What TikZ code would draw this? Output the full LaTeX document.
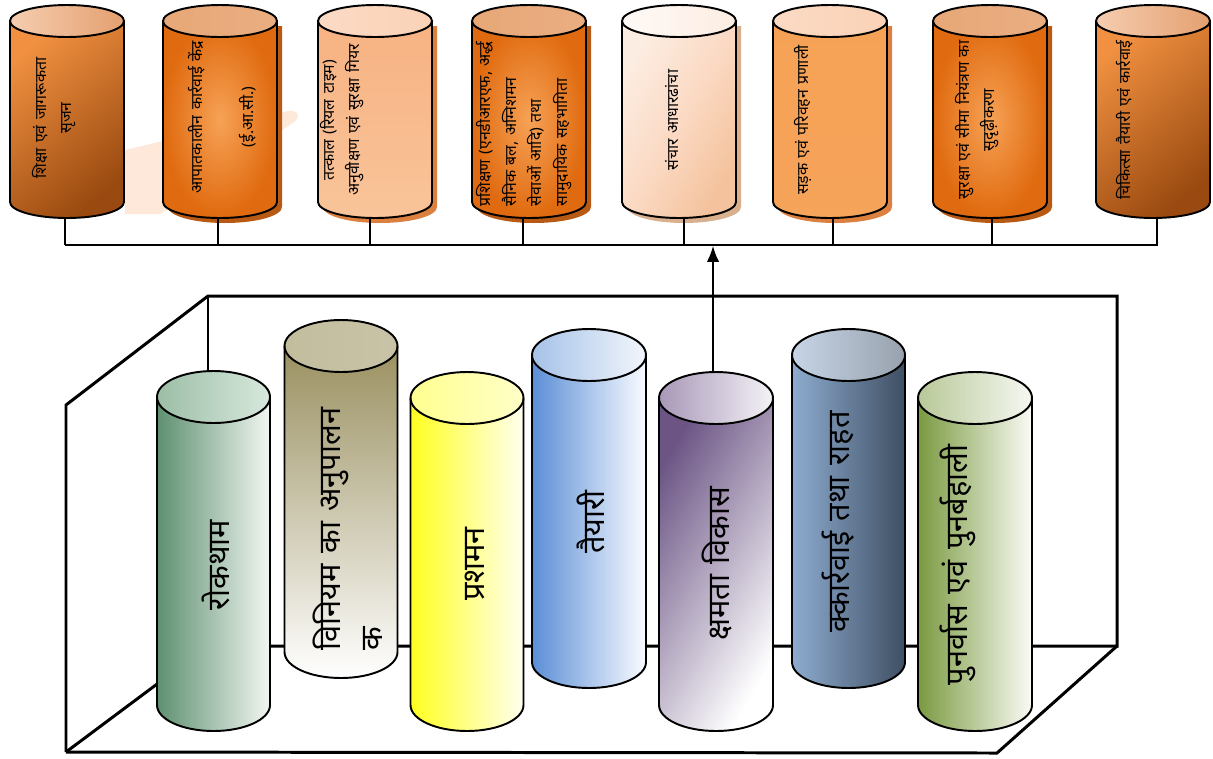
\documentclass[tikz,border=0pt]{standalone}
\usepackage{fontspec}
\newfontfamily\hindi[Script=Devanagari,WordSpace=1.8]{Noto Sans}
\newfontfamily\hinditop[Script=Devanagari,WordSpace=1.3]{Noto Sans}
\usetikzlibrary{arrows.meta}
% colours
\definecolor{oDark}{HTML}{9A4A10}
\definecolor{oMid}{HTML}{F09040}
\definecolor{oHot}{HTML}{E06A0F}
\definecolor{oGlow}{HTML}{F6A256}
\definecolor{oTopA}{HTML}{F5CDB0}
\definecolor{oTopB}{HTML}{E4A070}
\definecolor{oTopC}{HTML}{E8A878}
\definecolor{oLight}{HTML}{F7B282}
\definecolor{oLight2}{HTML}{F9C49A}
\definecolor{oPale}{HTML}{FBDAC4}
\definecolor{oPeach}{HTML}{FCEDE2}
\definecolor{oPeach2}{HTML}{F4C29C}
\definecolor{oShadow}{HTML}{B85A14}
\definecolor{oShadowL}{HTML}{DC8040}
\definecolor{oShadowP}{HTML}{D9B08E}
\definecolor{oFaint}{HTML}{FDE8DA}
\definecolor{gA}{HTML}{5E9070}\definecolor{gB}{HTML}{B0CDB8}\definecolor{gC}{HTML}{F2F6F2}
\definecolor{gTA}{HTML}{9CBEA6}\definecolor{gTB}{HTML}{D8E8DD}
\definecolor{kA}{HTML}{9A9060}\definecolor{kB}{HTML}{D8D2BE}\definecolor{kT}{HTML}{C2BD9D}
\definecolor{yA}{HTML}{FFFF20}\definecolor{yB}{HTML}{FFFFA0}\definecolor{yC}{HTML}{FFFFF0}
\definecolor{yTA}{HTML}{FFFF90}\definecolor{yTB}{HTML}{FFFFC8}
\definecolor{bA}{HTML}{5B8ED6}\definecolor{bB}{HTML}{C8DAF0}\definecolor{bC}{HTML}{FAFCFF}
\definecolor{bTA}{HTML}{A6C2E8}\definecolor{bTB}{HTML}{F2F6FC}
\definecolor{pA}{HTML}{6C5585}\definecolor{pB}{HTML}{D8D0E0}\definecolor{pC}{HTML}{FFFFFF}
\definecolor{pTA}{HTML}{A898B8}\definecolor{pTB}{HTML}{F4F2F6}
\definecolor{sA}{HTML}{8EACD0}\definecolor{sB}{HTML}{6A82A0}\definecolor{sC}{HTML}{3F4F63}
\definecolor{sTA}{HTML}{C6D4E6}\definecolor{sTB}{HTML}{98A2AE}
\definecolor{vA}{HTML}{7A9A40}\definecolor{vB}{HTML}{D0DCB8}\definecolor{vC}{HTML}{FAFBF6}
\definecolor{vTA}{HTML}{B8C898}\definecolor{vTB}{HTML}{F6F8F2}
% cylinder: #1 cx, #2 y of top ellipse, #3 y of bottom ellipse, #4 rx, #5 ry, #6 body, #7 top, #8 shadow
\newcommand\drawcyl[8]{%
  \path[#8] ({#1-#4+5},{#2+5}) -- ({#1-#4+5},{#3+5}) arc[start angle=180,end angle=0,x radius=#4,y radius=#5] -- ({#1+#4+5},{#2+5}) -- cycle;
  \shade[#6] ({#1-#4},#2) -- ({#1-#4},#3) arc[start angle=180,end angle=0,x radius=#4,y radius=#5] -- ({#1+#4},#2) -- cycle;
  \shade[#7] (#1,#2) ellipse[x radius=#4,y radius=#5];
  \draw[cylline] ({#1-#4},#2) -- ({#1-#4},#3) arc[start angle=180,end angle=0,x radius=#4,y radius=#5] -- ({#1+#4},#2);
  \draw[cylline] (#1,#2) ellipse[x radius=#4,y radius=#5];
}
\begin{document}
\begin{tikzpicture}[x=0.02cm,y=-0.02cm,
  cylline/.style={line width=1.1pt,black},
  boxline/.style={line width=1.7pt,black,line join=miter},
  busline/.style={line width=1.6pt,black},
  arrline/.style={line width=0.8pt,black,-{Latex[length=9pt,width=7pt]}},
  ttext/.style={rotate=90,font=\hinditop\fontsize{9}{14.5}\selectfont,align=center,inner sep=0pt},
  btext/.style={rotate=90,font=\hindi\fontsize{17.5}{24}\selectfont,align=center,inner sep=0pt},
  orangeDark/.style={top color=oMid,bottom color=oDark,shading angle=40},
  orangeHot/.style={inner color=oGlow,outer color=oHot},
  orangeLight/.style={top color=oLight,bottom color=oLight2},
  orangePeach/.style={left color=oPeach,right color=oPeach2,middle color=oPale,shading angle=60},
  orangeMid/.style={top color=oGlow,bottom color=oGlow!90!oLight},
  topDark/.style={left color=oTopA,right color=oTopB},
  topHot/.style={left color=oTopC,right color=oTopC!85!oTopA},
  topLight/.style={left color=oPale,right color=oPale!80!oLight},
  topPeach/.style={left color=white!70!oPeach,right color=oPeach},
  noshade/.style={},
  shDark/.style={fill=oShadow},
  shLight/.style={fill=oShadowL},
  shPeach/.style={fill=oShadowP}
]
\useasboundingbox (0,0) rectangle (1213,758);

% faint background shape
\fill[oFaint] (125,150) -- (288,111) .. controls (300,110) and (300,118) .. (294,122) -- (160,214) -- (125,214) -- cycle;

% ---------- top row ----------
\drawcyl{67}{21}{202}{57}{16}{orangeDark}{topDark}{noshade}
\drawcyl{220}{21}{202}{57}{16}{orangeHot}{topHot}{shDark}
\drawcyl{375}{21}{202}{57}{16}{orangeLight}{topLight}{shLight}
\drawcyl{529}{21}{202}{57}{16}{orangeHot}{topHot}{shDark}
\drawcyl{679}{21}{202}{57}{16}{orangePeach}{topPeach}{shPeach}
\drawcyl{830}{21}{202}{57}{16}{orangeMid}{topLight}{shLight}
\drawcyl{990}{21}{202}{57}{16}{orangeHot}{topHot}{shDark}
\drawcyl{1153}{21}{202}{57}{16}{orangeDark}{topDark}{noshade}

\node[ttext] (t1) at (54,118) {शिक्षा एवं जागरूकता\\सृजन};
\node[ttext] (t2) at (222,117) {आपातकालीन कार्रवाई केंद्र\\[14.5pt](ई.आ.सी.)};
\node[ttext] (t3) at (342,120) {तत्काल (रियल टाइम)\\अनुवीक्षण एवं सुरक्षा गियर};
\node[ttext,align=left] (t4) at (524,124) {प्रशिक्षण (एनडीआरएफ, अर्द्ध\\सैनिक बल, अग्निशमन\\सेवाओं आदि) तथा\\सामुदायिक सहभागिता};
\node[ttext] (t5) at (672,120) {संचार आधारढांचा};
\node[ttext] (t6) at (803,120) {सड़क एवं परिवहन प्रणाली};
\node[ttext] (t7) at (977,120) {सुरक्षा एवं सीमा नियंत्रण का\\सुदृढ़ीकरण};
\node[ttext] (t8) at (1125,120) {चिकित्सा तैयारी एवं कार्रवाई};

% bus
\foreach \i/\x in {1/65,2/218,3/370,4/523,5/684,6/833,7/992,8/1157}{
  \coordinate (c\i) at (\x,218);
  \coordinate (k\i) at (\x,245);
}
\coordinate (busR) at (1158,245);
\draw[busline] (k1) -- (busR);
\foreach \i in {1,...,8}{\draw[busline] (c\i) -- (k\i);}

% ---------- box ----------
\coordinate (BTL) at (208,296);
\coordinate (BTR) at (1117,296);
\coordinate (BBR) at (1117,646);
\coordinate (BBL) at (208,646);
\coordinate (FTL) at (66,405);
\coordinate (FBL) at (66,752);
\coordinate (FBR) at (997,753);
\draw[boxline] (FBL) -- (FTL) -- (BTL) -- (BTR) -- (BBR) -- (BBL);
\draw[boxline] (BTL) -- (BBL);
\draw[boxline] (FBL) -- (BBL);
\draw[boxline] (FBL) -- (FBR) -- (BBR);

% ---------- bottom row ----------
\drawcyl{213.5}{397}{705}{56.5}{26}{left color=gA,middle color=gB,right color=gC}{left color=gTA,right color=gTB}{noshade}
\drawcyl{341}{346}{652}{56.5}{26}{top color=kA,middle color=kB,bottom color=white}{left color=kT,right color=kT!90!white}{noshade}
\drawcyl{467}{398}{705}{56.5}{26}{left color=yA,middle color=yB,right color=yC}{left color=yTA,right color=yTB}{noshade}
\drawcyl{589}{355}{662}{57}{26}{left color=bA,middle color=bB,right color=bC}{left color=bTA,right color=bTB}{noshade}
\drawcyl{716}{398}{705}{57}{26}{top color=pA,middle color=pB,bottom color=pC,shading angle=60}{left color=pTA,right color=pTB}{noshade}
\drawcyl{848.5}{355}{662}{56.5}{26}{left color=sA,middle color=sB,right color=sC}{left color=sTA,right color=sTB}{noshade}
\drawcyl{975}{398}{705}{57}{26}{left color=vA,middle color=vB,right color=vC}{left color=vTA,right color=vTB}{noshade}

\node[btext] (b1) at (216,565) {रोकथाम};
\node[btext,align=left] (b2) at (348,529) {विनियम का अनुपालन\\क};
\node[btext] (b3) at (475,564) {प्रशमन};
\node[btext] (b4) at (591,522) {तैयारी};
\node[btext] (b5) at (717,564) {क्षमता विकास};
\node[btext] (b6) at (838,522) {क्कार्रवाई तथा राहत};
\node[btext] (b7) at (958,565) {पुनर्वास एवं पुनर्बहाली};

% arrow
\coordinate (a5) at (713,372);
\coordinate (aTop) at (713,246);
\draw[arrline] (a5) -- (aTop);
\end{tikzpicture}
\end{document}
